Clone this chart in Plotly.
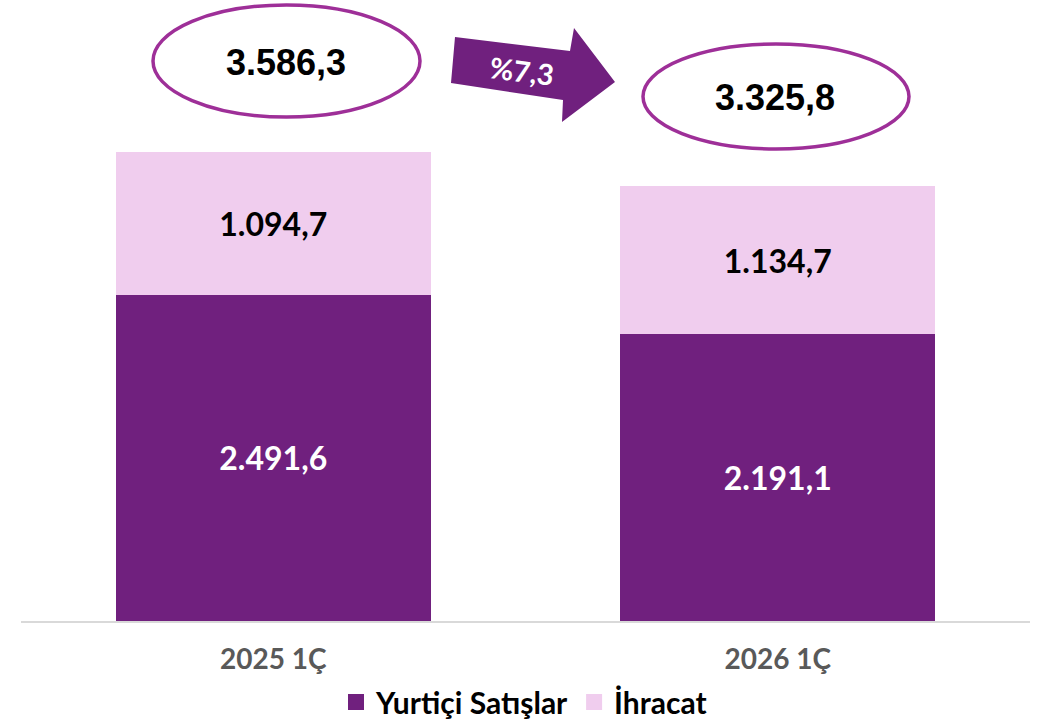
import plotly.graph_objects as go

# Quarterly sales (first quarter), thousand units
periods = ["2025 1Ç", "2026 1Ç"]
domestic = [2491.6, 2191.1]   # Yurtiçi Satışlar
exports = [1094.7, 1134.7]    # İhracat
series_names = ["Yurtiçi Satışlar", "İhracat"]

totals = [d + e for d, e in zip(domestic, exports)]
change_pct = (totals[0] - totals[1]) / totals[0] * 100

DARK = "#70207e"
LIGHT = "#f0cdee"
RING = "#9e2f98"

# plot area in pixels (for placing the callouts)
L, R, T, B = 21, 1030, 6, 621
W, H = 1051, 723


def px(x):
    return (x - L) / (R - L)


def py(y):
    return (B - y) / (B - T)


def tr(num):
    s = f"{num:,.1f}"
    return s.replace(",", "X").replace(".", ",").replace("X", ".")


fig = go.Figure()
for vals, name, col, tcol in [(domestic, series_names[0], DARK, "white"),
                              (exports, series_names[1], LIGHT, "black")]:
    fig.add_trace(go.Bar(
        x=periods, y=vals, name=name, marker_color=col, showlegend=False,
        width=0.625, texttemplate="%{y:,.1f}", textposition="inside",
        insidetextanchor="middle",
        textfont=dict(family="Lato", size=32, color=tcol, weight="bold"),
    ))
    # legend entry with a larger square swatch
    fig.add_trace(go.Scatter(
        x=[None], y=[None], name=name, mode="markers",
        marker=dict(symbol="square", size=16, color=col),
    ))

shapes = []
annotations = []

# total callouts in ellipses
ellipses = [(153, 5, 420, 117), (643, 44, 909, 149)]
for (x0, y0, x1, y1), tot in zip(ellipses, totals):
    shapes.append(dict(
        type="circle", xref="paper", yref="paper",
        x0=px(x0), x1=px(x1), y0=py(y1), y1=py(y0),
        line=dict(color=RING, width=3.5), fillcolor="rgba(0,0,0,0)",
    ))
    annotations.append(dict(
        xref="paper", yref="paper", x=px((x0 + x1) / 2 - 1), y=py((y0 + y1) / 2 + 1.5),
        text=f"<b>{tr(tot)}</b>", showarrow=False,
        font=dict(family="Liberation Sans", size=36, color="black"),
        xanchor="center", yanchor="middle",
    ))

# block arrow between the two totals
arrow_pts = [(455, 37), (570, 51), (574, 28), (615, 82), (562, 122), (563, 100), (451, 83)]
path = "M " + " L ".join(f"{px(x):.5f},{py(y):.5f}" for x, y in arrow_pts) + " Z"
shapes.append(dict(type="path", xref="paper", yref="paper", path=path,
                   fillcolor=DARK, line=dict(width=0)))
annotations.append(dict(
    xref="paper", yref="paper", x=px(522), y=py(70),
    text=f"<b>%{change_pct:.1f}</b>".replace(".", ","), showarrow=False,
    textangle=7, font=dict(family="Lato", size=29, color="white"),
    xanchor="center", yanchor="middle",
))

fig.update_layout(
    template="none",
    width=W, height=H,
    margin=dict(l=L, r=W - R, t=T, b=H - B, pad=0, autoexpand=False),
    barmode="stack",
    separators=",.",
    plot_bgcolor="white", paper_bgcolor="white",
    showlegend=True,
    legend=dict(
        orientation="h", x=px(524), xanchor="center",
        yref="container", y=(H - 702) / H, yanchor="middle",
        traceorder="normal", itemsizing="trace",
        font=dict(family="Lato", size=30, color="black", weight="bold"),
        itemwidth=30, bgcolor="rgba(0,0,0,0)",
    ),
    xaxis=dict(
        type="category", range=[-0.5, 1.5], showline=True, linecolor="#d9d9d9",
        linewidth=2, ticks="", showgrid=False, zeroline=False, ticklabelstandoff=12,
        automargin=False,
        tickfont=dict(family="Lato", size=28, color="#595959", weight="bold"),
    ),
    yaxis=dict(range=[0, 4700], visible=False, showgrid=False, zeroline=False,
               automargin=False),
    shapes=shapes, annotations=annotations,
    font=dict(family="Lato"),
)

fig.write_html("out.html")
